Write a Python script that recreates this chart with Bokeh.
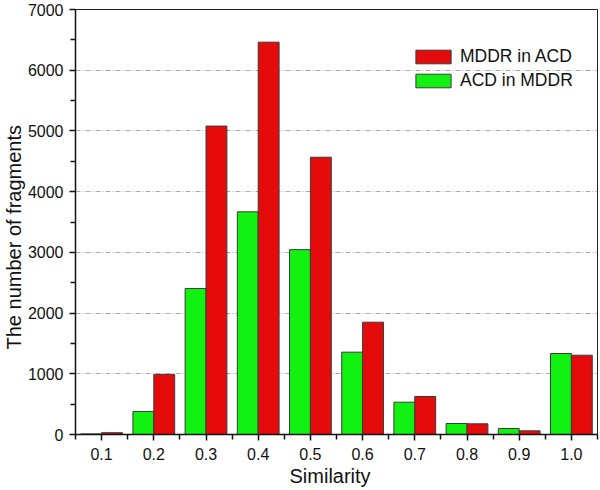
from bokeh.plotting import figure
from bokeh.models import ColumnDataSource, FixedTicker, PrintfTickFormatter, Range1d, Legend, LegendItem, Title
from bokeh.transform import dodge
from bokeh.embed import file_html
from bokeh.resources import INLINE

similarity = [0.1, 0.2, 0.3, 0.4, 0.5, 0.6, 0.7, 0.8, 0.9, 1.0]
acd_in_mddr = [10, 380, 2405, 3668, 3045, 1356, 532, 181, 99, 1334]
mddr_in_acd = [30, 990, 5080, 6462, 4567, 1850, 626, 176, 60, 1306]
y_ticks = [0, 1000, 2000, 3000, 4000, 5000, 6000, 7000]
y_minor = [500, 1500, 2500, 3500, 4500, 5500, 6500]
x_minor = [0.05, 0.15, 0.25, 0.35, 0.45, 0.55, 0.65, 0.75, 0.85, 0.95, 1.05]

src = ColumnDataSource(dict(sim=similarity, acd=acd_in_mddr, mddr=mddr_in_acd))

FONT = "Liberation Sans"

p = figure(width=600, height=490, output_backend="svg", toolbar_location=None,
           x_range=Range1d(0.05, 1.05), y_range=Range1d(0, 7000))
p.min_border_left = 74
p.min_border_right = 3
p.min_border_top = 9
p.min_border_bottom = 56
p.outline_line_color = "#222222"
p.outline_line_width = 1

g = p.vbar(x=dodge("sim", -0.02, range=p.x_range), top="acd", width=0.04, source=src,
           fill_color="#12F212", line_color="#3a3a3a", line_width=1)
r = p.vbar(x=dodge("sim", 0.02, range=p.x_range), top="mddr", width=0.04, source=src,
           fill_color="#E60B0B", line_color="#3a3a3a", line_width=1)

p.xaxis.ticker = FixedTicker(ticks=similarity, minor_ticks=x_minor)
p.xaxis.formatter = PrintfTickFormatter(format="%.1f")
p.yaxis.ticker = FixedTicker(ticks=y_ticks, minor_ticks=y_minor)

for ax in (p.xaxis[0], p.yaxis[0]):
    ax.axis_line_color = "#111111"
    ax.axis_line_width = 1.5
    ax.major_tick_line_color = "#111111"
    ax.major_tick_line_width = 1.5
    ax.minor_tick_line_color = "#111111"
    ax.minor_tick_line_width = 1.5
    ax.major_tick_out = 6
    ax.major_tick_in = 0
    ax.minor_tick_out = 5
    ax.minor_tick_in = 0
    ax.major_label_text_font = FONT
    ax.major_label_text_font_size = "16px"
    ax.major_label_text_color = "#111111"

p.xaxis.major_label_standoff = 7
p.yaxis.major_label_standoff = 6

ytitle = Title(text="The number of fragments", align="left", offset=85, standoff=0,
               text_font=FONT, text_font_size="20px", text_font_style="normal",
               text_color="#111111")
p.add_layout(ytitle, "left")
xtitle = Title(text="Similarity", align="left", offset=214, standoff=0,
               text_font=FONT, text_font_size="20px", text_font_style="normal",
               text_color="#111111")
p.add_layout(xtitle, "below")

p.xgrid.visible = False
p.ygrid.grid_line_color = "#aaaaaa"
p.ygrid.grid_line_dash = "5 2 1 2"
p.ygrid.grid_line_width = 1

legend = Legend(items=[LegendItem(label="MDDR in ACD", renderers=[r]),
                       LegendItem(label="ACD in MDDR", renderers=[g])],
                location=(336, 343))
legend.label_text_font = FONT
legend.label_text_font_size = "17.5px"
legend.label_text_color = "#111111"
legend.glyph_width = 44
legend.glyph_height = 17
legend.label_height = 17
legend.spacing = 3
legend.padding = 0
legend.margin = 0
legend.label_standoff = 5
legend.border_line_color = None
legend.background_fill_alpha = 0.0
p.add_layout(legend, "center")

open("out.html", "w").write(file_html(p, INLINE))
